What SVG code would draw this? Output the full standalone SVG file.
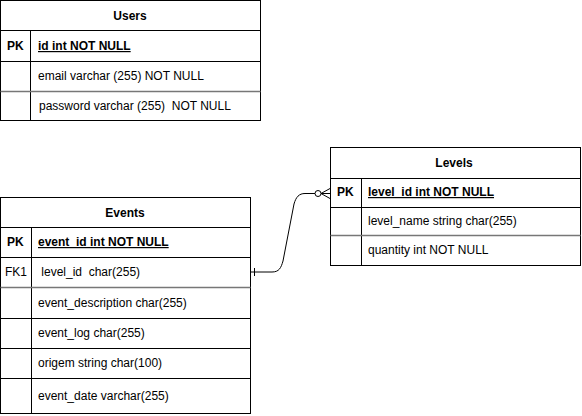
<svg xmlns="http://www.w3.org/2000/svg" width="582" height="416" viewBox="0 0 582 416">
<style>
text{font-family:"Liberation Sans",Arial,sans-serif;font-size:12px;fill:#000;white-space:pre}
.h{font-weight:bold;text-anchor:middle}
.b{font-weight:bold}
.u{font-weight:bold;text-decoration:underline}
.box{fill:#fff;stroke:#000;stroke-width:1}
.ln{stroke:#000;stroke-width:1;fill:none}
.gl{stroke:#777;stroke-width:1.5;fill:none}
.conn{stroke:#000;stroke-width:1;fill:none}
</style>
<rect width="582" height="416" fill="#fff"/>
<g id="users">
<rect class="box" x="0.5" y="0.5" width="260" height="120"/>
<path class="ln" d="M0.5 30.5H260.5M0.5 61.5H260.5M30.5 30.5V120.5"/>
<path class="gl" d="M0.5 91.5H260.5"/>
<text class="h" x="130" y="20">Users</text>
<text class="b" x="7" y="50">PK</text>
<text class="u" x="38" y="50">id int NOT NULL</text>
<text x="38" y="80">email varchar (255) NOT NULL</text>
<text x="39" y="110">password varchar (255)  NOT NULL</text>
</g>
<g id="levels">
<rect class="box" x="330.5" y="147.5" width="250" height="118"/>
<path class="ln" d="M330.5 178.5H580.5M330.5 207.5H580.5M361.5 178.5V265.5"/>
<path class="gl" d="M330.5 235.5H580.5"/>
<text class="h" x="454" y="167">Levels</text>
<text class="b" x="337" y="196">PK</text>
<text class="u" x="368" y="196">level_id int NOT NULL</text>
<text x="368" y="225">level_name string char(255)</text>
<text x="368" y="254">quantity int NOT NULL</text>
</g>
<g id="events">
<rect class="box" x="0.5" y="197.5" width="250" height="216"/>
<path class="ln" d="M0.5 227.5H250.5M0.5 257.5H250.5M0.5 318.5H250.5M0.5 348.5H250.5M0.5 378.5H250.5M31.5 227.5V413.5"/>
<path class="gl" d="M0.5 287.5H250.5"/>
<text class="h" x="125" y="217">Events</text>
<text class="b" x="7" y="246">PK</text>
<text class="u" x="38" y="246">event_id int NOT NULL</text>
<text x="5" y="276">FK1</text>
<text x="38" y="276"> level_id  char(255)</text>
<text x="38" y="307">event_description char(255)</text>
<text x="38" y="337">event_log char(255)</text>
<text x="38" y="367">origem string char(100)</text>
<text x="38" y="400">event_date varchar(255)</text>
</g>
<g id="connectors">
<path class="conn" d="M250.5 272H272C279 272 281 268 283 261L294 204C296 197 299 193.5 305 193.5H315"/>
<path class="conn" d="M254.5 268V276"/>
<circle class="conn" cx="318" cy="193.5" r="3"/>
<path class="conn" d="M321 193.5L330 188.5M321 193.5H330M321 193.5L330 198.5"/>
</g>
</svg>
